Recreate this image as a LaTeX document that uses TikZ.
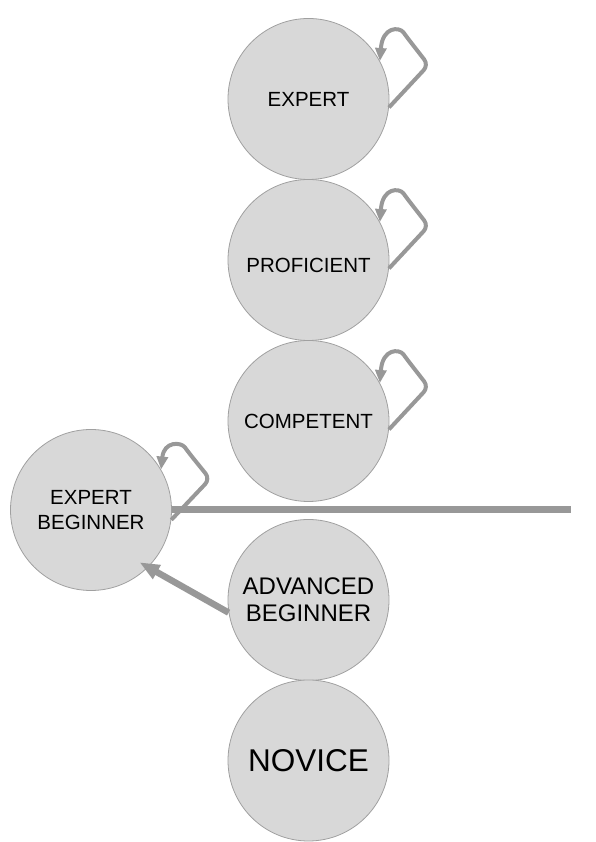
\documentclass[tikz,border=0pt]{standalone}
\usepackage{fontspec}
\setmainfont{Liberation Sans}
\usetikzlibrary{arrows.meta,calc}
\definecolor{cfill}{RGB}{216,216,216}
\definecolor{cedge}{RGB}{160,160,160}
\definecolor{cline}{RGB}{152,152,152}
\begin{document}
\begin{tikzpicture}[x=1pt,y=1pt,
  stage/.style={circle,draw=cedge,line width=0.8pt,fill=cfill,minimum size=161pt,inner sep=0pt,align=center,font=\fontsize{20.5}{25.5}\selectfont},
  selfloop/.style={draw=cline,line width=4pt,rounded corners=7pt,-{Triangle[length=13pt,width=11pt]},line join=round},
  advarrow/.style={draw=cline,line width=6.5pt,-{Triangle[length=20pt,width=15pt]}},
  divider/.style={draw=cline,line width=7pt}
]
\useasboundingbox (0,0) rectangle (595,842);
\node[stage] (ex) at (308.5,743) {EXPERT};
\node[stage] (pr) at (308.5,582) {\raisebox{-13pt}[0pt][0pt]{PROFICIENT}};
\node[stage] (co) at (308.5,421) {COMPETENT};
\node[stage] (eb) at (91,332) {EXPERT\\BEGINNER};
\node[stage,font=\fontsize{24}{27}\selectfont] (ab) at (308.5,242) {ADVANCED\\BEGINNER};
\node[stage,font=\fontsize{31.5}{36}\selectfont] (no) at (308.5,81.5) {NOVICE};
% self loops
\foreach \n in {ex,pr,co}{
  \draw[selfloop] (\n.-6) -- ($(\n.center)+(120,34)$) -- ($(\n.center)+(99,61)$)
    .. controls ($(\n.center)+(91,72)$) and ($(\n.center)+(74,73)$) .. (\n.28);
}
\draw[selfloop] (eb.-7) -- ($(eb.center)+(119,31)$) -- ($(eb.center)+(98,57)$)
    .. controls ($(eb.center)+(90,68)$) and ($(eb.center)+(73,69)$) .. (eb.30);
% divider
\coordinate (hr) at (571,332);
\draw[divider] (eb.east) -- (hr);
% arrow advanced beginner -> expert beginner
\draw[advarrow,shorten >=-10pt] (ab.189) -- (eb.-45);
\end{tikzpicture}
\end{document}
